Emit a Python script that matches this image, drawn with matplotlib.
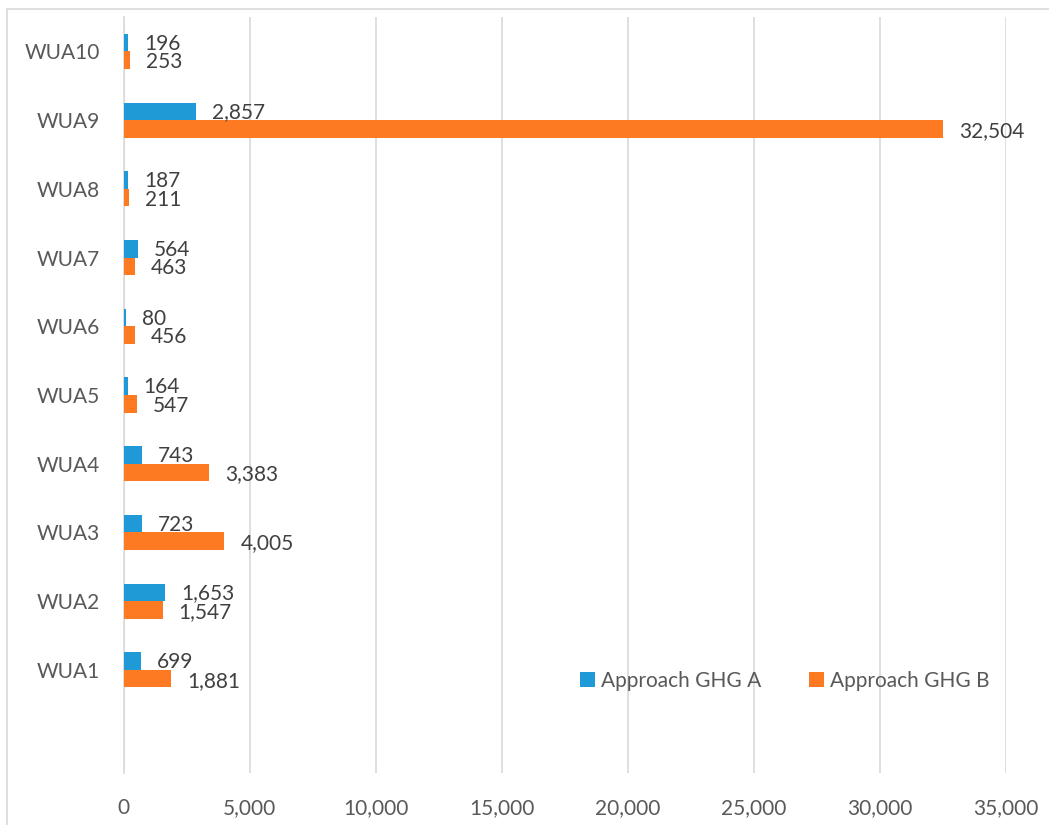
import matplotlib
matplotlib.use("Agg")
import matplotlib.pyplot as plt
import numpy as np
from matplotlib.patches import Rectangle

categories = ["WUA1", "WUA2", "WUA3", "WUA4", "WUA5", "WUA6", "WUA7", "WUA8", "WUA9", "WUA10"]
approach_a = [699, 1653, 723, 743, 164, 80, 564, 187, 2857, 196]
approach_b = [1881, 1547, 4005, 3383, 547, 456, 463, 211, 32504, 253]
series_names = ["Approach GHG A", "Approach GHG B"]
xticks = [0, 5000, 10000, 15000, 20000, 25000, 30000, 35000]

plt.rcParams['font.family'] = ['Lato', 'DejaVu Sans']

fig = plt.figure(figsize=(10.49, 8.25), dpi=100)
ax = fig.add_axes([123.5/1049, 1-773/825, (1006-123.5)/1049, (773-17)/825])

blue = "#1f9ad6"
orange = "#fd7a23"
h = 0.255
y = np.arange(len(categories))
ax.barh(y + h/2, approach_a, height=h, color=blue, label=series_names[0], zorder=3)
ax.barh(y - h/2, approach_b, height=h, color=orange, label=series_names[1], zorder=3)

fs = 15
for yi, va_, vb_ in zip(y, approach_a, approach_b):
    ax.annotate(f"{va_:,}", (va_, yi + h/2), xytext=(16, -1), textcoords='offset pixels',
                ha='left', va='center', fontsize=fs, color='#404040')
    ax.annotate(f"{vb_:,}", (vb_, yi - h/2), xytext=(16, -2), textcoords='offset pixels',
                ha='left', va='center', fontsize=fs, color='#404040')

ax.set_xlim(0, 35000)
ax.set_ylim(-1.5, 9.5)
ax.set_xticks(xticks)
ax.set_xticklabels([f"{t:,}" for t in xticks])
ax.set_yticks(y)
ax.set_yticklabels(categories)
ax.tick_params(axis='both', length=0, labelsize=fs, labelcolor='#595959')
ax.tick_params(axis='x', pad=18)
ax.tick_params(axis='y', pad=17)
ax.grid(axis='x', color='#d9d9d9', linewidth=1.2, zorder=0)
for s in ['top', 'right', 'bottom']:
    ax.spines[s].set_visible(False)
ax.spines['left'].set_color('#d9d9d9')
ax.spines['left'].set_linewidth(1.2)

leg = ax.legend(loc='center', bbox_to_anchor=((785-123.5)/(1006-123.5), (773-681)/(773-17)),
                ncol=2, frameon=False, fontsize=fs, handlelength=0.7, handleheight=0.7,
                handletextpad=0.3, columnspacing=2.3, labelcolor='#595959')

fig.patches.append(Rectangle((7/1049, -0.01), 1.02, 1-9/825+0.01, transform=fig.transFigure,
                             fill=False, edgecolor='#d9d9d9', linewidth=1.2))

fig.savefig("out.png", dpi=100)
